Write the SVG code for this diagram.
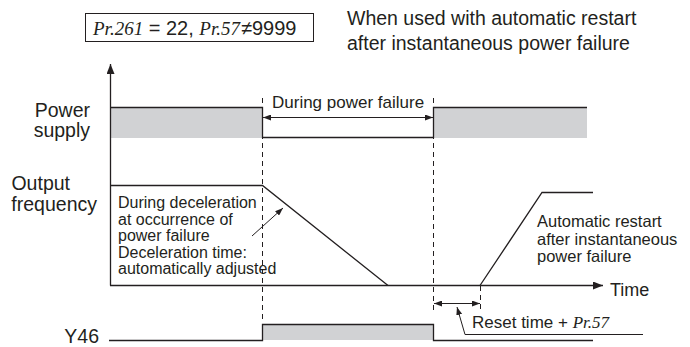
<svg xmlns="http://www.w3.org/2000/svg" width="690" height="347" viewBox="0 0 690 347">
<defs>
<marker id="ah" viewBox="0 0 10 8" refX="10" refY="4" markerWidth="10" markerHeight="8" markerUnits="userSpaceOnUse" orient="auto-start-reverse">
<path d="M0,0 L10,4 L0,8 Z" fill="#231f20"/>
</marker>
<marker id="ahs" viewBox="0 0 8 6" refX="8" refY="3" markerWidth="8" markerHeight="6" markerUnits="userSpaceOnUse" orient="auto-start-reverse">
<path d="M0,0 L8,3 L0,6 Z" fill="#231f20"/>
</marker>
</defs>
<style>
.s{font-family:"Liberation Sans",Arial,sans-serif;fill:#231f20}
.i{font-family:"Liberation Serif","Times New Roman",serif;font-style:italic}
.ln{stroke:#231f20;stroke-width:1.3;fill:none}
.th{stroke:#231f20;stroke-width:1;fill:none}
.dash{stroke:#231f20;stroke-width:1;stroke-dasharray:5 4;fill:none}
.gray{fill:#d1d2d4}
</style>
<rect width="690" height="347" fill="#fff"/>

<g id="title">
<rect x="85.5" y="13.5" width="228" height="28" fill="none" stroke="#231f20" stroke-width="1"/>
<text class="s" x="93" y="35" font-size="20"><tspan class="i" font-size="19">Pr.261</tspan> = 22, <tspan class="i" font-size="19">Pr.57</tspan><tspan dx="1">≠9999</tspan></text>
</g>
<g id="note">
<text class="s" x="347" y="25" font-size="19.5">When used with automatic restart</text>
<text class="s" x="347" y="50" font-size="19.5">after instantaneous power failure</text>
</g>

<g id="labels">
<text class="s" x="90" y="117" font-size="19.5" text-anchor="end">Power</text>
<text class="s" x="90" y="137" font-size="19.5" text-anchor="end">supply</text>
<text class="s" x="70" y="190" font-size="19.5" text-anchor="end">Output</text>
<text class="s" x="97" y="211" font-size="19.5" text-anchor="end">frequency</text>
<text class="s" x="99" y="343" font-size="19.5" text-anchor="end">Y46</text>
</g>

<g id="dashes">
<line class="dash" x1="262.5" y1="98" x2="262.5" y2="323"/>
<line class="dash" x1="433.5" y1="98" x2="433.5" y2="310"/>
<line class="dash" x1="480.5" y1="286" x2="480.5" y2="310"/>
</g>

<g id="power-supply">
<rect class="gray" x="110" y="107" width="152" height="31"/>
<rect class="gray" x="433" y="107" width="154" height="31"/>
<path class="ln" d="M110,107.5 H262.5 V137.5 H433.5 V107.5 H587"/>
</g>

<g id="axes">
<line class="ln" x1="110.5" y1="285.5" x2="110.5" y2="64" marker-end="url(#ah)"/>
<line class="ln" x1="110" y1="285.5" x2="603" y2="285.5" marker-end="url(#ah)"/>
<text class="s" x="610" y="296" font-size="18">Time</text>
</g>

<g id="output-frequency">
<path class="ln" d="M110,185.5 H262.5 L388,285.5"/>
<path class="ln" d="M480,285.5 L542,192.5 H593"/>
</g>

<g id="y46">
<rect class="gray" x="263" y="324" width="170" height="16"/>
<path class="ln" d="M109,340.5 H262.5 V324.5 H433.5 V340.5 H593"/>
</g>

<g id="connectors">
<line class="th" x1="263" y1="117.5" x2="433" y2="117.5" marker-start="url(#ahs)" marker-end="url(#ahs)"/>
<line class="th" x1="434" y1="303.5" x2="480" y2="303.5" marker-start="url(#ahs)" marker-end="url(#ahs)"/>
<path class="th" d="M643,334.5 H465 L457,307" marker-end="url(#ahs)"/>
<line class="th" x1="252" y1="236" x2="283" y2="208" marker-end="url(#ahs)"/>
</g>

<g id="annotations">
<text class="s" x="272" y="108" font-size="17">During power failure</text>
<text class="s" font-size="16">
<tspan x="118" y="208">During deceleration</tspan>
<tspan x="118" y="224.5">at occurrence of</tspan>
<tspan x="118" y="241">power failure</tspan>
<tspan x="118" y="257.5">Deceleration time:</tspan>
<tspan x="118" y="274">automatically adjusted</tspan>
</text>
<text class="s" font-size="16.5">
<tspan x="537" y="227">Automatic restart</tspan>
<tspan x="537" y="244.5">after instantaneous</tspan>
<tspan x="537" y="262">power failure</tspan>
</text>
<text class="s" x="472" y="328" font-size="17">Reset time + <tspan class="i">Pr.57</tspan></text>
</g>
</svg>
